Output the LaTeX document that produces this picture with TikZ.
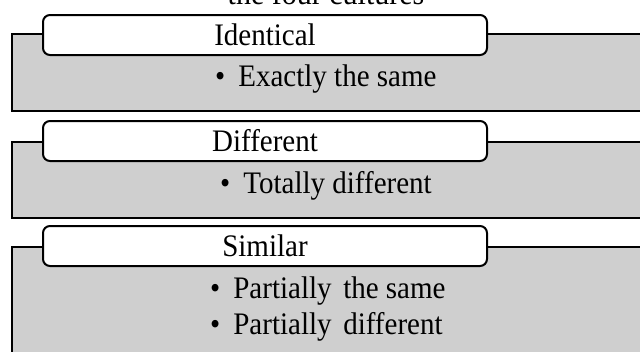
\documentclass[tikz,border=0pt]{standalone}
\usepackage{fontspec}
\setmainfont{Liberation Serif}
\definecolor{boxgray}{RGB}{207,207,207}
\newcommand{\tallt}[1]{\scalebox{1}[1.08]{#1}}
\begin{document}
\begin{tikzpicture}[x=1pt,y=-1pt,
  panel/.style={draw=black, line width=2pt, fill=boxgray},
  tab/.style={draw=black, line width=2pt, fill=white, rounded corners=7pt,
    minimum width=444pt, minimum height=40pt, inner sep=0pt,
    font=\fontsize{29}{36}\selectfont},
  body/.style={font=\fontsize{29}{36}\selectfont, inner sep=0pt, anchor=base west}]
\useasboundingbox (0,0) rectangle (640,351);
\clip (0,0) rectangle (640,351);
\node[anchor=base, inner sep=0pt, font=\fontsize{30}{36}\selectfont] (title) at (326,4) {\tallt{the four cultures}};
% panel 1
\draw[panel] (12,34) rectangle (660,111);
\node[tab] (t1) at (265,35) {\tallt{Identical}};
\node[body] (b1) at (215,86) {\tallt{\textbullet\hspace{0.45em}Exactly the same}};
% panel 2
\draw[panel] (12,142) rectangle (660,218);
\node[tab] (t2) at (265,141) {\tallt{Different}};
\node[body] (b2) at (220,193) {\tallt{\textbullet\hspace{0.45em}Totally different}};
% panel 3
\draw[panel] (12,247) rectangle (660,380);
\node[tab] (t3) at (265,246) {\tallt{Similar}};
\node[body] (b3) at (210,298) {\tallt{\textbullet\hspace{0.45em}Partially\hspace{0.15em} the same}};
\node[body] (b4) at (210,334) {\tallt{\textbullet\hspace{0.45em}Partially\hspace{0.15em} different}};
\end{tikzpicture}
\end{document}
